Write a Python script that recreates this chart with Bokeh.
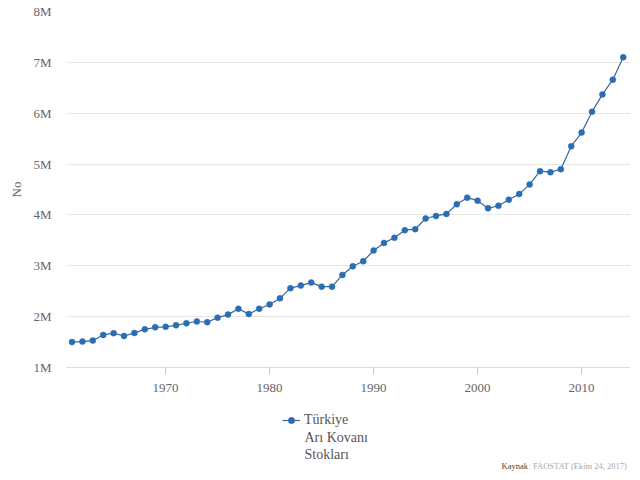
from bokeh.plotting import figure
from bokeh.layouts import column
from bokeh.models import ColumnDataSource, Legend, LegendItem, Label, CustomJSTickFormatter, FixedTicker, Range1d
from bokeh.embed import file_html
from bokeh.resources import INLINE

years = list(range(1961, 2015))
hives = [1.50, 1.51, 1.53, 1.64, 1.675, 1.62, 1.68, 1.75, 1.79, 1.80,
         1.83, 1.87, 1.905, 1.89, 1.98, 2.04, 2.155, 2.05, 2.155, 2.24,
         2.36, 2.56, 2.61, 2.67, 2.59, 2.59, 2.82, 2.99, 3.09, 3.30,
         3.45, 3.55, 3.70, 3.72, 3.93, 3.98, 4.02, 4.21, 4.34, 4.28,
         4.13, 4.18, 4.30, 4.41, 4.60, 4.86, 4.84, 4.90, 5.35, 5.62,
         6.03, 6.37, 6.66, 7.10]
hives = [v * 1e6 for v in hives]
y_ticks = [1e6, 2e6, 3e6, 4e6, 5e6, 6e6, 7e6, 8e6]
x_ticks = [1970, 1980, 1990, 2000, 2010]
series_first_line = "Türkiye"
series_rest = "Arı Kovanı\nStokları"
source_title = "Kaynak"
source_text = ": FAOSTAT (Ekim 24, 2017)"

FONT = "Liberation Serif"
LINE_COLOR = "#3a6796"
DOT_COLOR = "#2a6db5"
src = ColumnDataSource(dict(x=years, y=hives))

p = figure(width=630, height=408, output_backend="svg", toolbar_location=None,
           x_range=Range1d(1960.47, 2014.7), y_range=Range1d(1e6, 8e6),
           min_border_left=66, min_border_right=0, min_border_top=11, min_border_bottom=41)
p.outline_line_color = None

p.line("x", "y", source=src, line_color=LINE_COLOR, line_width=1.2)
p.scatter("x", "y", source=src, size=6, fill_color=DOT_COLOR, line_color=DOT_COLOR, line_width=0.5)

p.xgrid.visible = False
p.ygrid.grid_line_color = "#e6e6e6"

p.yaxis.ticker = FixedTicker(ticks=y_ticks)
p.yaxis.formatter = CustomJSTickFormatter(code="return (tick/1e6).toFixed(0) + 'M';")
p.yaxis.axis_line_color = None
p.yaxis.major_tick_line_color = None
p.yaxis.major_tick_out = 0
p.yaxis.major_tick_in = 0
p.yaxis.minor_tick_line_color = None
p.yaxis.major_label_standoff = 15
p.yaxis.major_label_text_font = FONT
p.yaxis.major_label_text_font_size = "13px"
p.yaxis.major_label_text_color = "#666666"
p.yaxis.axis_label = "No"
p.yaxis.axis_label_text_font = FONT
p.yaxis.axis_label_text_font_size = "13px"
p.yaxis.axis_label_text_font_style = "normal"
p.yaxis.axis_label_text_color = "#666666"
p.yaxis.axis_label_standoff = 6

p.xaxis.ticker = FixedTicker(ticks=x_ticks)
p.xaxis.axis_line_color = "#dddddd"
p.xaxis.major_tick_line_color = "#cccccc"
p.xaxis.major_tick_out = 7
p.xaxis.major_tick_in = 0
p.xaxis.minor_tick_line_color = None
p.xaxis.major_label_standoff = 9
p.xaxis.major_label_text_font = FONT
p.xaxis.major_label_text_font_size = "13px"
p.xaxis.major_label_text_color = "#666666"

# legend / source strip (its legend renderers use the same data, which lies outside this strip's ranges)
p2 = figure(width=630, height=64, output_backend="svg", toolbar_location=None,
            x_range=Range1d(0, 1), y_range=Range1d(0, 1),
            min_border_left=66, min_border_right=0, min_border_top=0, min_border_bottom=0)
p2.axis.visible = False
p2.grid.visible = False
p2.outline_line_color = None
l2 = p2.line("x", "y", source=src, line_color=LINE_COLOR, line_width=1.2)
s2 = p2.scatter("x", "y", source=src, size=6, fill_color=DOT_COLOR, line_color=DOT_COLOR, line_width=0.5)

legend = Legend(items=[LegendItem(label=series_first_line, renderers=[l2, s2])],
                location=(216, 44), orientation="vertical",
                label_text_font=FONT, label_text_font_size="14px",
                label_text_color="#555555", label_height=16, glyph_width=18, glyph_height=16,
                border_line_color=None, background_fill_alpha=0, padding=0, spacing=0,
                label_standoff=4, margin=0)
p2.add_layout(legend, "center")

p2.add_layout(Label(x=238, y=43, x_units="screen", y_units="screen", text=series_rest,
                    text_baseline="top", text_line_height=1.15,
                    text_font=FONT, text_font_size="14px", text_color="#555555"))

p2.add_layout(Label(x=435, y=2, x_units="screen", y_units="screen", text=source_title,
                    text_font=FONT, text_font_size="8.5px", text_color="#444444"))
p2.add_layout(Label(x=462, y=2, x_units="screen", y_units="screen", text=source_text,
                    text_font=FONT, text_font_size="8.5px", text_color="#aaaaaa"))

layout = column(p, p2, spacing=0)
open("out.html", "w").write(file_html(layout, INLINE))
